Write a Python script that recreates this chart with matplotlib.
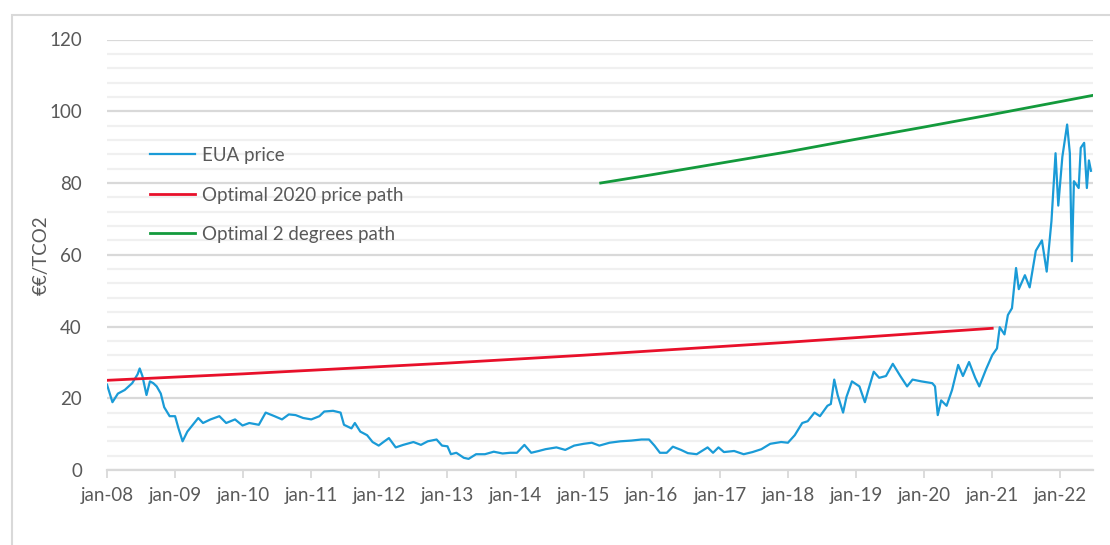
import matplotlib
matplotlib.use("Agg")
import matplotlib.pyplot as plt
from matplotlib.patches import Rectangle
from matplotlib.ticker import MultipleLocator

# EUA price (decimal year, EUR/tCO2)
eua_dates = [
    2008.00, 2008.08, 2008.16, 2008.26, 2008.37, 2008.45, 2008.48, 2008.52, 2008.58, 2008.63,
    2008.68, 2008.73, 2008.79, 2008.84, 2008.92, 2009.00, 2009.05, 2009.11, 2009.18, 2009.26,
    2009.34, 2009.41, 2009.52, 2009.65, 2009.75, 2009.88, 2009.99, 2010.09, 2010.23, 2010.33,
    2010.46, 2010.57, 2010.67, 2010.77, 2010.88, 2011.00, 2011.12, 2011.19, 2011.32, 2011.43,
    2011.48, 2011.59, 2011.64, 2011.72, 2011.82, 2011.90, 2011.99, 2012.06, 2012.14, 2012.24,
    2012.35, 2012.50, 2012.61, 2012.71, 2012.84, 2012.92, 2013.00, 2013.05, 2013.13, 2013.24,
    2013.31, 2013.42, 2013.55, 2013.68, 2013.81, 2013.92, 2014.02, 2014.13, 2014.23, 2014.34,
    2014.44, 2014.60, 2014.73, 2014.86, 2015.00, 2015.12, 2015.23, 2015.38, 2015.54, 2015.70,
    2015.85, 2015.96, 2016.04, 2016.12, 2016.22, 2016.31, 2016.43, 2016.53, 2016.66, 2016.82,
    2016.90, 2016.98, 2017.06, 2017.21, 2017.35, 2017.48, 2017.61, 2017.74, 2017.90, 2018.00,
    2018.10, 2018.21, 2018.29, 2018.39, 2018.47, 2018.58, 2018.63, 2018.68, 2018.73, 2018.81,
    2018.86, 2018.94, 2019.05, 2019.13, 2019.18, 2019.26, 2019.34, 2019.44, 2019.54, 2019.65,
    2019.75, 2019.83, 2019.96, 2020.12, 2020.16, 2020.20, 2020.25, 2020.33, 2020.41, 2020.50,
    2020.57, 2020.66, 2020.75, 2020.81, 2020.91, 2021.00, 2021.07, 2021.11, 2021.18, 2021.23,
    2021.29, 2021.35, 2021.39, 2021.48, 2021.55, 2021.64, 2021.73, 2021.80, 2021.87, 2021.93,
    2021.97, 2022.03, 2022.10, 2022.14, 2022.17, 2022.20, 2022.27, 2022.30, 2022.35, 2022.39,
    2022.42, 2022.45,
]
eua_price = [
    23.8, 18.9, 21.3, 22.3, 24.2, 26.7, 28.3, 26.2, 20.9, 24.7,
    24.2, 23.3, 21.3, 17.5, 15.0, 15.0, 11.6, 8.0, 10.7, 12.6,
    14.5, 13.1, 14.1, 15.0, 13.1, 14.1, 12.4, 13.1, 12.6, 16.0,
    15.0, 14.1, 15.5, 15.3, 14.5, 14.1, 15.0, 16.3, 16.5, 16.0,
    12.6, 11.6, 13.1, 10.7, 9.7, 7.8, 6.8, 7.8, 8.9, 6.3,
    7.0, 7.8, 7.0, 8.0, 8.5, 6.8, 6.6, 4.4, 4.8, 3.4,
    3.1, 4.4, 4.4, 5.1, 4.6, 4.8, 4.8, 7.0, 4.8, 5.3,
    5.8, 6.3, 5.6, 6.8, 7.3, 7.6, 6.8, 7.6, 8.0, 8.2,
    8.5, 8.5, 6.8, 4.8, 4.8, 6.5, 5.6, 4.7, 4.4, 6.3,
    4.8, 6.3, 5.0, 5.3, 4.4, 5.0, 5.8, 7.3, 7.8, 7.6,
    9.7, 13.1, 13.6, 16.0, 15.0, 17.9, 18.4, 25.2, 20.9, 16.0,
    20.4, 24.7, 23.3, 18.9, 22.3, 27.4, 25.7, 26.2, 29.6, 26.2,
    23.3, 25.2, 24.7, 24.2, 23.3, 15.3, 19.4, 17.9, 22.3, 29.3,
    26.2, 30.1, 25.7, 23.3, 28.1, 32.0, 33.9, 39.8, 37.8, 43.2,
    45.1, 56.3, 50.4, 54.3, 50.9, 61.1, 64.0, 55.3, 69.4, 88.3,
    73.7, 87.3, 96.3, 88.3, 58.2, 80.5, 78.6, 89.8, 91.2, 78.6,
    86.3, 83.4,
]

# optimal 2020 price path
red_dates = [2008, 2009, 2010, 2011, 2012, 2013, 2014, 2015, 2016, 2017, 2018, 2019, 2020, 2021]
red_price = [25.0, 25.9, 26.8, 27.8, 28.8, 29.8, 30.9, 32.0, 33.2, 34.4, 35.6, 36.9, 38.2, 39.5]

# optimal 2 degrees path
green_dates = [2015.25, 2016, 2017, 2018, 2019, 2020, 2021, 2022, 2022.47]
green_price = [80.0, 82.3, 85.5, 88.7, 92.2, 95.6, 99.1, 102.7, 104.4]

tick_years = list(range(2008, 2023))
tick_labels = ["jan-08", "jan-09", "jan-10", "jan-11", "jan-12", "jan-13", "jan-14", "jan-15",
               "jan-16", "jan-17", "jan-18", "jan-19", "jan-20", "jan-21", "jan-22"]

plt.rcParams["font.family"] = ["Lato", "DejaVu Sans"]
text_color = "#595959"
fs = 13.5

fig = plt.figure(figsize=(11.1, 5.45), dpi=100)
ax = fig.add_axes([107 / 1110, 1 - 470 / 545, (1093 - 107) / 1110, (470 - 39.5) / 545])

# outer chart border
fig.patches.append(Rectangle((12 / 1110, -0.1), 1.2, 1.1 - 15 / 545, transform=fig.transFigure,
                             fill=False, edgecolor="#d9d9d9", linewidth=1.5))

ax.plot(eua_dates, eua_price, color="#1a9bd7", lw=1.6, label="EUA price", zorder=3)
ax.plot(red_dates, red_price, color="#e8102a", lw=2.0, label="Optimal 2020 price path", zorder=4)
ax.plot(green_dates, green_price, color="#139a3c", lw=2.0, label="Optimal 2 degrees path", zorder=4)

ax.set_xlim(2008.0, 2022.48)
ax.set_ylim(0, 120)
ax.yaxis.set_major_locator(MultipleLocator(20))
ax.yaxis.set_minor_locator(MultipleLocator(4))
ax.grid(which="major", axis="y", color="#d9d9d9", lw=1.6, zorder=0)
ax.grid(which="minor", axis="y", color="#f0f0f0", lw=1.6, zorder=0)
ax.set_xticks(tick_years)
ax.set_xticklabels(tick_labels)

for side in ["top", "right", "left"]:
    ax.spines[side].set_visible(False)
ax.spines["bottom"].set_color("#d9d9d9")
ax.spines["bottom"].set_linewidth(1.6)

ax.tick_params(axis="x", which="major", length=6, width=1.3, color="#d9d9d9",
               labelsize=fs, labelcolor=text_color, pad=6)
ax.tick_params(axis="y", which="both", length=0, labelsize=fs, labelcolor=text_color, pad=18)

ax.set_ylabel("€€/TCO2", fontsize=fs, color=text_color, labelpad=0)

ax.legend(loc="upper left", bbox_to_anchor=(150 / 1110, 1 - 147 / 545), bbox_transform=fig.transFigure,
          frameon=False, fontsize=fs, labelcolor=text_color, handlelength=2.4, handletextpad=0.35,
          labelspacing=1.2, borderpad=0, borderaxespad=0)

fig.savefig("out.png", dpi=100)
